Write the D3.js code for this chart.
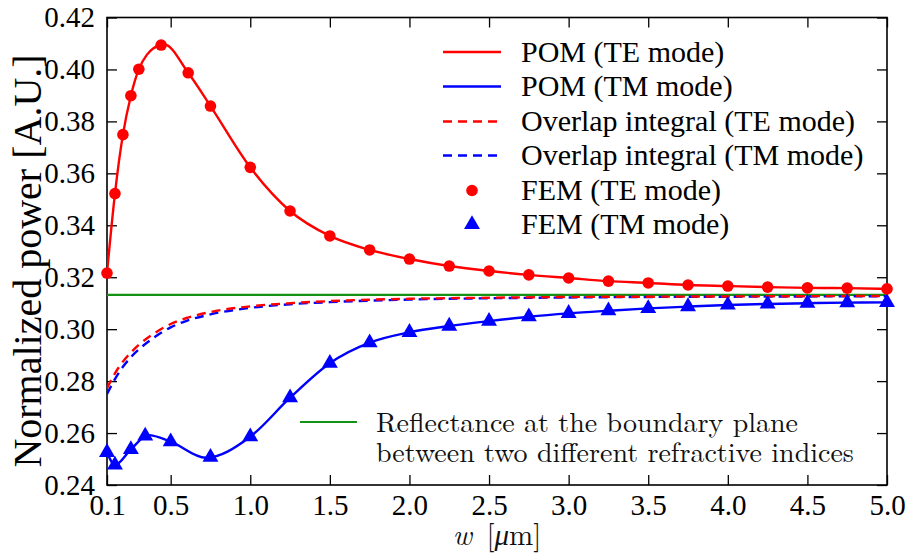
<!DOCTYPE html>
<html><head><meta charset="utf-8">
<script src="https://cdn.jsdelivr.net/npm/d3@7/dist/d3.min.js"></script>
<style>body{margin:0;background:#fff}svg{display:block}</style>
</head><body><svg id="c" width="910" height="553"></svg>
<script>
// ---------- data ----------
const xTicks = [0.1, 0.5, 1.0, 1.5, 2.0, 2.5, 3.0, 3.5, 4.0, 4.5, 5.0];
const yTicks = [0.24, 0.26, 0.28, 0.30, 0.32, 0.34, 0.36, 0.38, 0.40, 0.42];

const femTE_w = [0.1, 0.15, 0.2, 0.25, 0.3, 0.44, 0.61, 0.75, 1.0, 1.25, 1.5, 1.75, 2.0, 2.25, 2.5, 2.75, 3.0, 3.25, 3.5, 3.75, 4.0, 4.25, 4.5, 4.75, 5.0];
const femTE_v = [0.3216, 0.3522, 0.3749, 0.3899, 0.4001, 0.4094, 0.3987, 0.3859, 0.3623, 0.3455, 0.3359, 0.3305, 0.3270, 0.3243, 0.3224, 0.3209, 0.3197, 0.3185, 0.3178, 0.3170, 0.3166, 0.3162, 0.3159, 0.3158, 0.3155];

const femTM_w = [0.1, 0.15, 0.25, 0.34, 0.5, 0.75, 1.0, 1.25, 1.5, 1.75, 2.0, 2.25, 2.5, 2.75, 3.0, 3.25, 3.5, 3.75, 4.0, 4.25, 4.5, 4.75, 5.0];
const femTM_v = [0.2526, 0.2477, 0.2537, 0.2589, 0.2567, 0.2507, 0.2586, 0.2736, 0.2869, 0.2948, 0.2988, 0.3012, 0.3031, 0.3048, 0.3061, 0.3071, 0.3080, 0.3087, 0.3093, 0.3097, 0.3100, 0.3102, 0.3103];

const pomTE_w = [0.1, 0.15, 0.2, 0.25, 0.3, 0.35, 0.39, 0.46, 0.61, 0.75, 1.0, 1.25, 1.5, 1.75, 2.0, 2.25, 2.5, 2.75, 3.0, 3.25, 3.5, 3.75, 4.0, 4.25, 4.5, 4.75, 5.0];
const pomTE_v = [0.3216, 0.3522, 0.3749, 0.3899, 0.4001, 0.4056, 0.4081, 0.4096, 0.3987, 0.3859, 0.3623, 0.3455, 0.3359, 0.3305, 0.3270, 0.3243, 0.3224, 0.3209, 0.3197, 0.3185, 0.3178, 0.3170, 0.3166, 0.3162, 0.3159, 0.3158, 0.3155];

const pomTM_w = [0.1, 0.15, 0.25, 0.36, 0.5, 0.72, 1.0, 1.25, 1.5, 1.75, 2.0, 2.25, 2.5, 2.75, 3.0, 3.25, 3.5, 3.75, 4.0, 4.25, 4.5, 4.75, 5.0];
const pomTM_v = [0.2526, 0.2477, 0.2537, 0.2592, 0.2567, 0.2505, 0.2586, 0.2736, 0.2869, 0.2948, 0.2988, 0.3012, 0.3031, 0.3048, 0.3061, 0.3071, 0.3080, 0.3087, 0.3093, 0.3097, 0.3100, 0.3102, 0.3103];

const ovl_w    = [0.1, 0.15, 0.2, 0.25, 0.3, 0.4, 0.5, 0.6, 0.75, 1.0, 1.25, 1.5, 2.0, 2.5, 3.0, 3.5, 4.0, 4.5, 5.0];
const ovlTE_v  = [0.2773, 0.2830, 0.2875, 0.2910, 0.2940, 0.2985, 0.3020, 0.3043, 0.3066, 0.3088, 0.3100, 0.3108, 0.3117, 0.3121, 0.3124, 0.3125, 0.3126, 0.3127, 0.3128];
const ovlTM_v  = [0.2750, 0.2808, 0.2855, 0.2892, 0.2922, 0.2970, 0.3007, 0.3032, 0.3057, 0.3082, 0.3096, 0.3104, 0.3114, 0.3119, 0.3122, 0.3124, 0.3125, 0.3126, 0.3127];

const reflectance = 0.3132;

const legendLabels = ["POM (TE mode)", "POM (TM mode)", "Overlap integral (TE mode)", "Overlap integral (TM mode)", "FEM (TE mode)", "FEM (TM mode)"];
const reflLabel = ["Reflectance at the boundary plane", "between two different refractive indices"];

// ---------- layout ----------
const L = 107, R = 887, T = 17.5, B = 485;
const RED = "#ff0000", BLUE = "#0000ff", GREEN = "#139213";
const TIMES = '"Liberation Serif", serif';
const CM = '"Latin Modern Roman", "Liberation Serif", serif';
const svg = d3.select("#c");
const x = d3.scaleLinear().domain([0.1, 5.0]).range([L, R]);
const y = d3.scaleLinear().domain([0.24, 0.42]).range([B, T]);

// axes (ticks inward)
const gx = svg.append("g").attr("transform", `translate(0,${B})`)
  .call(d3.axisBottom(x).tickValues(xTicks).tickFormat(d3.format(".1f")).tickSizeInner(-10).tickSizeOuter(0).tickPadding(9));
const gy = svg.append("g").attr("transform", `translate(${L},0)`)
  .call(d3.axisLeft(y).tickValues(yTicks).tickFormat(d3.format(".2f")).tickSizeInner(-10).tickSizeOuter(0).tickPadding(12));
const gt = svg.append("g").attr("transform", `translate(0,${T})`)
  .call(d3.axisTop(x).tickValues(xTicks).tickFormat("").tickSizeInner(-10).tickSizeOuter(0));
const gr = svg.append("g").attr("transform", `translate(${R},0)`)
  .call(d3.axisRight(y).tickValues(yTicks).tickFormat("").tickSizeInner(-10).tickSizeOuter(0));
[gx, gy, gt, gr].forEach(g => {
  g.attr("font-family", null).attr("font-size", null);
  g.select(".domain").remove();
  g.selectAll(".tick line").attr("stroke", "#000").attr("stroke-width", 1.3);
  g.selectAll("text").style("font-family", TIMES).style("font-size", "29px").attr("fill", "#000");
});

// frame
svg.append("rect").attr("x", L).attr("y", T).attr("width", R - L).attr("height", B - T)
  .attr("fill", "none").attr("stroke", "#000").attr("stroke-width", 1.6);

// axis titles
svg.append("text").attr("transform", `translate(41,261) rotate(-90)`)
  .attr("text-anchor", "middle").style("font-family", TIMES).style("font-size", "40px").attr("fill", "#000")
  .text("Normalized power [A.U.]");
const xl = svg.append("text").attr("x", (L + R) / 2).attr("y", 545).attr("text-anchor", "middle")
  .style("font-family", CM).style("font-size", "29px").attr("fill", "#111");
xl.append("tspan").attr("font-style", "italic").text("w");
xl.append("tspan").text("\u2002[");
xl.append("tspan").attr("font-style", "italic").text("\u03bc");
xl.append("tspan").text("m]");

// clip
svg.append("clipPath").attr("id", "clip").append("rect").attr("x", L).attr("y", T).attr("width", R - L).attr("height", B - T);
const plot = svg.append("g").attr("clip-path", "url(#clip)");

// reflectance line
plot.append("line").attr("x1", L).attr("x2", R).attr("y1", y(reflectance)).attr("y2", y(reflectance))
  .attr("stroke", GREEN).attr("stroke-width", 2.2);

const line = d3.line().x(d => x(d[0])).y(d => y(d[1])).curve(d3.curveMonotoneX);
const zip = (a, b) => a.map((v, i) => [v, b[i]]);

plot.append("path").attr("d", line(zip(ovl_w, ovlTM_v))).attr("fill", "none").attr("stroke", BLUE)
  .attr("stroke-width", 2.4).attr("stroke-dasharray", "9,6");
plot.append("path").attr("d", line(zip(ovl_w, ovlTE_v))).attr("fill", "none").attr("stroke", RED)
  .attr("stroke-width", 2.4).attr("stroke-dasharray", "9,6");
plot.append("path").attr("d", line(zip(pomTM_w, pomTM_v))).attr("fill", "none").attr("stroke", BLUE).attr("stroke-width", 2.4);
plot.append("path").attr("d", line(zip(pomTE_w, pomTE_v))).attr("fill", "none").attr("stroke", RED).attr("stroke-width", 2.4);

// markers
const tri = d3.symbol().type(d3.symbolTriangle).size(110);
svg.append("g").selectAll("path").data(zip(femTM_w, femTM_v)).join("path")
  .attr("d", tri).attr("transform", d => `translate(${x(d[0])},${y(d[1])})`).attr("fill", BLUE);
svg.append("g").selectAll("circle").data(zip(femTE_w, femTE_v)).join("circle")
  .attr("cx", d => x(d[0])).attr("cy", d => y(d[1])).attr("r", 5.8).attr("fill", RED);

// legend
const legY = [52, 86.5, 121.5, 155.5, 190.5, 224.5];
const legStyle = [
  {c: RED, dash: null, m: null}, {c: BLUE, dash: null, m: null},
  {c: RED, dash: "9,6", m: null}, {c: BLUE, dash: "9,6", m: null},
  {c: RED, dash: null, m: "circle"}, {c: BLUE, dash: null, m: "tri"}
];
const leg = svg.append("g");
legendLabels.forEach((lab, i) => {
  const s = legStyle[i], yy = legY[i];
  if (s.m === null) {
    leg.append("line").attr("x1", 443).attr("x2", 501).attr("y1", yy).attr("y2", yy)
      .attr("stroke", s.c).attr("stroke-width", 2.4).attr("stroke-dasharray", s.dash);
  } else if (s.m === "circle") {
    leg.append("circle").attr("cx", 472).attr("cy", yy).attr("r", 5.8).attr("fill", s.c);
  } else {
    leg.append("path").attr("d", tri).attr("transform", `translate(472,${yy})`).attr("fill", s.c);
  }
  leg.append("text").attr("x", 521).attr("y", yy).attr("dy", "0.33em")
    .style("font-family", TIMES).style("font-size", "30px").attr("fill", "#000").text(lab);
});

// reflectance legend
svg.append("line").attr("x1", 300).attr("x2", 357).attr("y1", 422).attr("y2", 422)
  .attr("stroke", GREEN).attr("stroke-width", 2.2);
reflLabel.forEach((t, i) => {
  svg.append("text").attr("x", 376).attr("y", 423 + i * 30).attr("dy", "0.33em")
    .style("font-family", CM).style("font-size", "28px").attr("fill", "#111").text(t);
});
</script>
</body></html>
